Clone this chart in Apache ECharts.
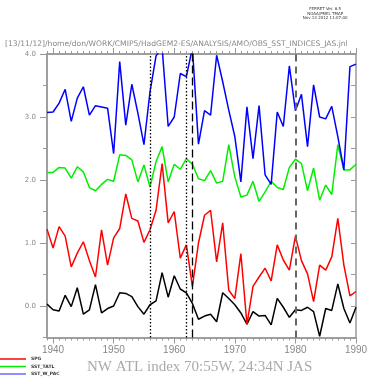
<!DOCTYPE html>
<html><head><meta charset="utf-8">
<script src="https://cdn.jsdelivr.net/npm/echarts@6/dist/echarts.min.js"></script>
<style>html,body{margin:0;padding:0;background:#fff}#c{width:379px;height:378px}</style>
</head><body><div id="c"></div>
<script>
const years = [];
for (let y = 1939; y <= 1990; y++) years.push(y);
const decadeTicks = [1940, 1950, 1960, 1970, 1980, 1990];
const yMajorTicks = [0, 1, 2, 3, 4];
const nwAtl = [0.03,-0.06,-0.08,0.17,-0.01,0.29,-0.13,-0.06,0.34,-0.11,
  -0.04,0.00,0.21,0.20,0.15,-0.01,-0.13,0.02,0.08,0.53,
  0.14,0.48,0.27,0.21,0.04,-0.21,-0.16,-0.13,-0.25,0.21,
  0.12,0.02,-0.11,-0.29,-0.09,-0.16,-0.15,-0.30,0.12,-0.02,
  -0.18,-0.06,-0.07,-0.02,-0.09,-0.48,-0.04,-0.07,0.35,-0.04,
  -0.27,-0.02];
const spg = [1.22,0.92,1.26,1.11,0.62,0.84,1.02,0.72,0.46,1.21,
  0.65,1.08,1.23,1.78,1.39,1.35,1.01,1.21,1.52,2.26,
  1.32,1.50,0.76,0.97,0.31,1.00,1.44,1.52,0.70,1.32,
  0.25,0.12,0.83,-0.29,0.31,0.46,0.60,0.40,0.97,0.73,
  0.57,1.11,0.72,0.51,0.07,0.65,0.57,0.78,1.39,0.65,
  0.16,0.23];
const sstTatl = [2.12,2.12,2.20,2.19,2.03,2.21,2.13,1.88,1.83,1.93,
  2.01,1.98,2.40,2.39,2.32,1.97,2.24,1.89,2.29,2.53,
  1.97,2.25,2.17,2.34,2.25,2.02,1.99,2.15,1.95,1.98,
  2.56,2.05,1.73,1.76,1.98,1.66,1.81,1.98,1.88,1.85,
  2.20,2.33,2.26,1.83,2.19,1.68,1.92,1.77,2.56,2.16,
  2.16,2.25];
const sstWPac = [3.07,3.08,3.22,3.44,2.93,3.30,3.48,3.03,3.18,3.16,
  3.14,2.42,3.88,2.87,3.52,3.06,2.56,3.40,3.97,4.10,
  2.85,3.00,3.69,3.64,4.10,2.57,3.10,3.03,3.98,3.56,
  3.11,2.69,1.97,3.16,2.34,3.18,2.08,1.93,3.08,2.85,
  3.81,3.10,3.36,2.53,3.51,3.00,2.97,3.17,2.69,2.16,
  3.80,3.84];
const dottedYears = [1956, 1962];
const dashedYears = [1963];
const grayDashedYears = [1980];
const legendNames = ['SPG', 'SST_TATL', 'SST_W_PAC'];
const legendColors = ['#ff0000', '#00ee00', '#6a6aff'];

const pair = arr => years.map((y, i) => [y, arr[i]]);
const axisGray = '#999';
const labelGray = '#888';
const xBase = {type: 'value', min: 1939, max: 1990, splitLine: {show: false},
  axisLine: {onZero: false, lineStyle: {color: axisGray, width: 1.5}}};
const yBase = {type: 'value', min: -0.5, max: 4, splitLine: {show: false},
  axisLine: {onZero: false, lineStyle: {color: axisGray, width: 1.5}}};

const legendGraphics = [];
legendNames.forEach((n, i) => {
  const y = 359 + i * 7.5;
  legendGraphics.push({type: 'line', shape: {x1: 0, y1: y, x2: 26, y2: y},
    style: {stroke: legendColors[i], lineWidth: 1.5}, silent: true});
  legendGraphics.push({type: 'text', x: 31, y: y, style: {text: n, fontSize: 4.5,
    fontFamily: 'DejaVu Sans', fontWeight: 'bold', fill: '#333', verticalAlign: 'middle'}, silent: true});
});

const chart = echarts.init(document.getElementById('c'), null, {renderer: 'canvas'});
chart.setOption({
  animation: false,
  backgroundColor: '#fff',
  title: [
    {text: '[13/11/12]/home/don/WORK/CMIP5/HadGEM2-ES/ANALYSIS/AMO/OBS_SST_INDICES_JAS.jnl',
     left: 5, top: 40, padding: 0, textStyle: {fontSize: 7.6, fontWeight: 'normal', color: labelGray, fontFamily: 'DejaVu Sans'}},
    {text: 'FERRET Ver. 6.5\nNOAA/PMEL TMAP\nNov 13 2012 11:07:00', right: 4, top: 2,
     textAlign: 'center', textStyle: {fontSize: 4, lineHeight: 4.5, fontWeight: 'normal', color: '#333', fontFamily: 'DejaVu Sans', align: 'center'}},
    {text: 'NW ATL index 70:55W, 24:34N JAS', left: 87, top: 360, padding: 0,
     textStyle: {fontSize: 15, fontWeight: 'normal', color: '#aaa', fontFamily: 'Liberation Serif'}}
  ],
  graphic: legendGraphics,
  grid: {left: 47, right: 23, top: 54, bottom: 40.5},
  xAxis: [
    Object.assign({}, xBase, {position: 'bottom', interval: 1,
      axisTick: {length: 3, lineStyle: {color: axisGray}}, axisLabel: {show: false}}),
    Object.assign({}, xBase, {position: 'bottom', interval: 1,
      axisTick: {length: 6, customValues: decadeTicks, lineStyle: {color: axisGray}},
      axisLabel: {customValues: decadeTicks, formatter: v => String(v), fontSize: 10, color: labelGray, margin: 8, fontFamily: 'Liberation Sans'}}),
    Object.assign({}, xBase, {position: 'top', interval: 1,
      axisTick: {length: 3, lineStyle: {color: axisGray}}, axisLabel: {show: false}}),
    Object.assign({}, xBase, {position: 'top', interval: 1,
      axisTick: {length: 6, customValues: decadeTicks, lineStyle: {color: axisGray}}, axisLabel: {show: false}})
  ],
  yAxis: [
    Object.assign({}, yBase, {position: 'left', interval: 0.5,
      axisTick: {length: 4, lineStyle: {color: axisGray}}, axisLabel: {show: false}}),
    Object.assign({}, yBase, {position: 'left', interval: 0.5,
      axisTick: {length: 7, customValues: yMajorTicks, lineStyle: {color: axisGray}},
      axisLabel: {customValues: yMajorTicks, formatter: v => v.toFixed(1), fontSize: 7, color: labelGray, margin: 11, fontFamily: 'DejaVu Sans'}}),
    Object.assign({}, yBase, {position: 'right', interval: 0.5,
      axisTick: {inside: true, length: 5, lineStyle: {color: axisGray}}, axisLabel: {show: false}})
  ],
  series: [
    {name: 'NW ATL', type: 'line', data: pair(nwAtl), symbol: 'none', color: '#000',
     lineStyle: {width: 1.5, color: '#000'},
     markLine: {symbol: 'none', silent: true, label: {show: false}, animation: false,
       data: [
         ...dottedYears.map(y => ({xAxis: y, lineStyle: {type: [1.5, 2], color: '#000', width: 1.3}})),
         ...dashedYears.map(y => ({xAxis: y, lineStyle: {type: [8, 4], color: '#000', width: 1.3}})),
         ...grayDashedYears.map(y => ({xAxis: y, lineStyle: {type: [7, 5], color: '#666', width: 2}}))
       ]}},
    {name: 'SPG', type: 'line', data: pair(spg), symbol: 'none', color: '#ff0000', lineStyle: {width: 1.5}},
    {name: 'SST_TATL', type: 'line', data: pair(sstTatl), symbol: 'none', color: '#00ee00', lineStyle: {width: 1.5}},
    {name: 'SST_W_PAC', type: 'line', data: pair(sstWPac), symbol: 'none', color: '#0000ff', lineStyle: {width: 1.5}}
  ]
});
</script></body></html>
